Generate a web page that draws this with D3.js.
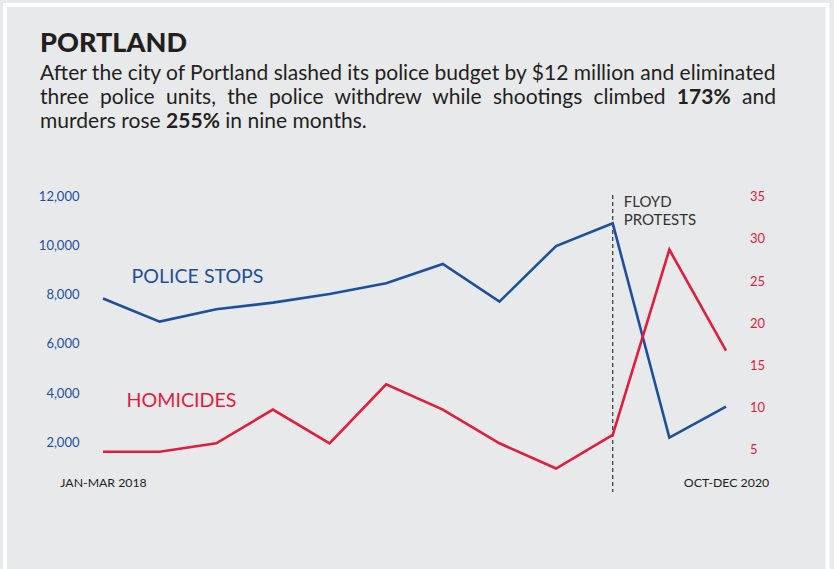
<!DOCTYPE html>
<html>
<head>
<meta charset="utf-8">
<script src="https://cdn.jsdelivr.net/npm/d3@7"></script>
<style>
  html, body { margin: 0; padding: 0; background: #e8e9eb; }
  svg { display: block; }
  text { font-family: Lato, "Open Sans", sans-serif; }
</style>
</head>
<body>
<svg id="chart" width="834" height="569"></svg>
<script>
// ---- data ----
const quarters = [
  "JAN-MAR 2018", "APR-JUN 2018", "JUL-SEP 2018", "OCT-DEC 2018",
  "JAN-MAR 2019", "APR-JUN 2019", "JUL-SEP 2019", "OCT-DEC 2019",
  "JAN-MAR 2020", "APR-JUN 2020", "JUL-SEP 2020", "OCT-DEC 2020"
];
const policeStops = [7840, 6900, 7400, 7670, 8020, 8460, 9240, 7710, 9970, 10890, 2190, 3450];
const homicides   = [5, 5, 6, 10, 6, 13, 10, 6, 3, 7, 29, 17];
const stopTicks = [2000, 4000, 6000, 8000, 10000, 12000];
const homicideTicks = [5, 10, 15, 20, 25, 30, 35];
const xLabels = ["JAN-MAR 2018", "OCT-DEC 2020"];
const eventQuarter = "APR-JUN 2020";
const eventLabel = ["FLOYD", "PROTESTS"];
const title = "PORTLAND";
const descLines = [
  [{t: "After the city of Portland slashed its police budget by $12 million and eliminated"}],
  [{t: "three police units, the police withdrew while shootings climbed "}, {t: "173%", b: true}, {t: " and"}],
  [{t: "murders rose "}, {t: "255%", b: true}, {t: " in nine months."}]
];

// ---- styles ----
const BLUE = "#1d4f9f";
const RED = "#e21d3c";
const INK = "#231f20";

const svg = d3.select("#chart");

// panel + white frame
svg.append("rect").attr("x", 0).attr("y", 0).attr("width", 834).attr("height", 569).attr("fill", "#e8e9eb");
svg.append("rect").attr("x", 5).attr("y", 5).attr("width", 822.5).attr("height", 600)
  .attr("fill", "none").attr("stroke", "#ffffff").attr("stroke-width", 4);

// ---- title ----
svg.append("text").attr("x", 40).attr("y", 51.5)
  .attr("font-size", 27).attr("font-weight", 900).attr("fill", INK)
  .attr("textLength", 147).attr("lengthAdjust", "spacingAndGlyphs")
  .text(title);

// ---- description ----
const descG = svg.append("g");
const descTexts = descLines.map((segs, i) => {
  const t = descG.append("text")
    .attr("x", 0).attr("y", 80.5 + i * 23.6)
    .attr("font-size", 21).attr("fill", INK)
    .attr("xml:space", "preserve").style("white-space", "pre");
  segs.forEach(s => t.append("tspan").attr("font-weight", s.b ? 700 : 400).text(s.t));
  return t;
});
const targetW = 736;
const w1 = descTexts[0].node().getComputedTextLength();
const k = targetW / w1;
descG.attr("transform", `translate(40,0) scale(${k},1)`);
{
  const t2 = descTexts[1];
  const w2 = t2.node().getComputedTextLength();
  const full = descLines[1].map(s => s.t).join("");
  const spaces = (full.match(/ /g) || []).length;
  t2.style("word-spacing", ((targetW / k - w2) / spaces) + "px");
}

// ---- scales ----
const x = d3.scalePoint().domain(quarters).range([103, 726]);
const yL = d3.scaleLinear().domain([2000, 12000]).range([442.3, 196]);
const yR = d3.scaleLinear().domain([5, 35]).range([451.7, 199.1]);

// ---- axes ----
const leftAxis = svg.append("g").attr("transform", "translate(79.5,0)")
  .call(d3.axisLeft(yL).tickValues(stopTicks).tickFormat(d3.format(",")).tickSize(0).tickPadding(0));
leftAxis.select(".domain").remove();
leftAxis.selectAll("text").attr("fill", BLUE).attr("font-size", 13)
  .style("font-family", "Lato, sans-serif");

const rightAxis = svg.append("g").attr("transform", "translate(750,0)")
  .call(d3.axisRight(yR).tickValues(homicideTicks).tickFormat(d3.format("d")).tickSize(0).tickPadding(0));
rightAxis.select(".domain").remove();
rightAxis.selectAll("text").attr("fill", RED).attr("font-size", 13)
  .attr("transform", "translate(0,-2.4)")
  .style("font-family", "Lato, sans-serif");

const bottomAxis = svg.append("g").attr("transform", "translate(0,478.5)")
  .call(d3.axisBottom(x).tickValues(xLabels).tickSize(0).tickPadding(0));
bottomAxis.select(".domain").remove();
bottomAxis.selectAll("text").attr("fill", INK).attr("font-size", 12.3)
  .style("font-family", "Lato, sans-serif");

// ---- event line ----
const ex = x(eventQuarter);
svg.append("line").attr("x1", ex).attr("x2", ex).attr("y1", 195).attr("y2", 492)
  .attr("stroke", "#333").attr("stroke-width", 1.2).attr("stroke-dasharray", "4,3");
const evT = svg.append("text").attr("x", ex + 11).attr("y", 207)
  .attr("font-size", 15).attr("fill", "#333");
eventLabel.forEach((l, i) => evT.append("tspan").attr("x", ex + 11).attr("dy", i ? 18 : 0).text(l));

// ---- lines ----
svg.append("path").datum(policeStops)
  .attr("fill", "none").attr("stroke", BLUE).attr("stroke-width", 2.6).attr("stroke-linejoin", "miter")
  .attr("d", d3.line().x((d, i) => x(quarters[i])).y(d => yL(d)));
svg.append("path").datum(homicides)
  .attr("fill", "none").attr("stroke", RED).attr("stroke-width", 2.6).attr("stroke-linejoin", "miter")
  .attr("d", d3.line().x((d, i) => x(quarters[i])).y(d => yR(d)));

// ---- series labels ----
svg.append("text").attr("x", 131.5).attr("y", 282.7).attr("font-size", 20).attr("fill", BLUE)
  .attr("textLength", 132).attr("lengthAdjust", "spacingAndGlyphs").text("POLICE STOPS");
svg.append("text").attr("x", 126.5).attr("y", 407.3).attr("font-size", 20).attr("fill", RED)
  .attr("textLength", 110).attr("lengthAdjust", "spacingAndGlyphs").text("HOMICIDES");
</script>
</body>
</html>
